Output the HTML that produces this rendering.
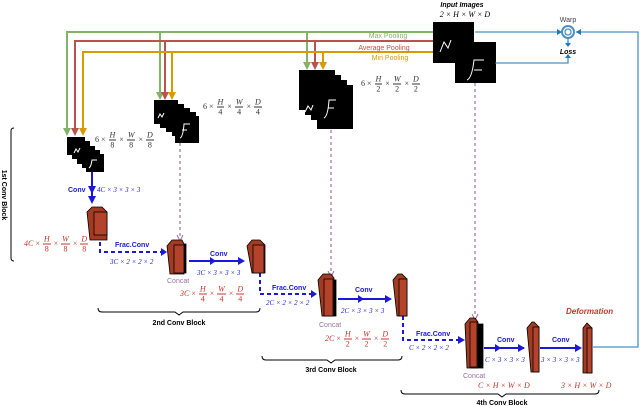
<!DOCTYPE html>
<html><head><style>
body{margin:0;background:#fff}
svg{display:block;font-family:"Liberation Sans",sans-serif}
.m{font-family:"Liberation Serif",serif;font-style:italic}
.lab{position:absolute;font-family:"Liberation Serif",serif;font-size:8px;white-space:nowrap;line-height:1;transform:translateY(-50%)}
.fr{display:inline-block;vertical-align:middle;text-align:center;margin:0 1px}
.fr span{display:block;padding:0 1px;line-height:9px}
.fr span:first-child{font-style:italic;border-bottom:0.8px solid}
.i{font-style:italic}
</style></head><body>
<div style="position:relative;width:640px;height:406px">
<svg width="640" height="406" viewBox="0 0 640 406" xmlns="http://www.w3.org/2000/svg">
<!-- pooling lines -->
<g fill="none" stroke-width="2">
<path d="M434,32 H67 V133 M160,32 V97 M307,32 V67" stroke="#82b366"/>
<path d="M434,41 H75 V133 M165,41 V97 M315,41 V67" stroke="#b85450"/>
<path d="M434,52 H83 V133 M172,52 V97 M323,52 V67" stroke="#d79b00"/>
</g>
<g>
<path d="M63,128 L67,136 L71,128z M156,92 L160,100 L164,92z M303,62 L307,70 L311,62z" fill="#82b366"/>
<path d="M71,128 L75,136 L79,128z M161,92 L165,100 L169,92z M311,62 L315,70 L319,62z" fill="#b85450"/>
<path d="M79,128 L83,136 L87,128z M168,92 L172,100 L176,92z M319,62 L323,70 L327,62z" fill="#d79b00"/>
</g>
<text x="388" y="38" font-size="7" fill="#82b366" text-anchor="middle">Max Pooling</text>
<text x="384" y="50" font-size="7" fill="#b85450" text-anchor="middle">Average Pooling</text>
<text x="390" y="60" font-size="7" fill="#d79b00" text-anchor="middle">Min Pooling</text>
<!-- stacks -->
<g fill="#000">
<rect x="67" y="137" width="18" height="18"/><rect x="72" y="141" width="18" height="18"/><rect x="77" y="146" width="18" height="18"/><rect x="82" y="150" width="18" height="18"/><rect x="86" y="154" width="18" height="18"/>
<rect x="154" y="100" width="24" height="24"/><rect x="160" y="104" width="24" height="24"/><rect x="166" y="108" width="24" height="24"/><rect x="172" y="112" width="24" height="24"/><rect x="175" y="116" width="24" height="27"/>
<rect x="299" y="70" width="36" height="40"/><rect x="305" y="75" width="36" height="40"/><rect x="311" y="80" width="36" height="40"/><rect x="317" y="85" width="36" height="44"/>
<rect x="433" y="22" width="41" height="41"/><rect x="455" y="42" width="41" height="41"/>
</g>
<g stroke="#fff" fill="none" stroke-width="1">
<path d="M440,52 l4,-10 l4,6 l3,-8 M467,80 q5,-2 7,-20 l10,0 M474,70 h8"/>
<path d="M324,118 q4,-2 5,-18 l7,0 M328,108 h6 M305,112 l3,-6 l3,4 l2,-5"/>
<path d="M180,138 q3,-1 4,-14 l6,0 M182,130 h5 M158,118 l2,-4 l2,3 l2,-4"/>
<path d="M89,168 q2,-1 3,-8 l5,0 M74,153 l2,-4 l2,3 l2,-4"/>
</g>
<text x="462" y="7" font-size="7" font-weight="bold" font-style="italic" text-anchor="middle">Input Images</text>
<text x="465" y="17" font-size="8" class="m" text-anchor="middle">2 × H × W × D</text>
<!-- warp/loss -->
<g stroke="#1f77b4" fill="none" stroke-width="1.3" opacity="0.8">
<path d="M475,32 H560 M495,63 H568 V56 M576,32 H638 V347 H593 M568,38 V44"/>
<circle cx="568" cy="32" r="6" stroke-width="2"/><circle cx="568" cy="32" r="3"/>
</g>
<path d="M557,29 L562,32 L557,35z M581,29 L576,32 L581,35z M565,43 L568,47 L571,43z M565,58 L568,54 L571,58z" fill="#1f77b4"/>
<text x="568" y="22" font-size="7" fill="#444" text-anchor="middle">Warp</text>
<text x="568" y="54" font-size="7" font-weight="bold" font-style="italic" text-anchor="middle">Loss</text>
<!-- purple dashed -->
<g stroke="#9673a6" stroke-dasharray="3,3" stroke-width="1.2">
<path d="M180,143 V236 M331,130 V272 M475,83 V315"/></g>
<path d="M177,235 L180,241 L183,235 M328,271 L331,277 L334,271 M472,314 L475,320 L478,314" stroke="#9673a6" fill="none"/>
<!-- blue flows -->
<g stroke="#1a1ad6" stroke-width="2" fill="none">
<path d="M92,172 V200"/>
<path d="M100,235 V252 H162" stroke-dasharray="4,3"/>
<path d="M189,261 H243"/>
<path d="M260,273 V294 H313" stroke-dasharray="4,3"/>
<path d="M338,299 H390"/>
<path d="M403,316 V340 H462" stroke-dasharray="4,3"/>
<path d="M484,348 H524"/><path d="M540,348 H580"/>
</g>
<g fill="#1a1ad6">
<path d="M88,186 L92,194 L96,186z M88,196 L92,204 L96,196z M161,248 L167,252 L161,256z M210,257 L216,261 L210,265z M238,257 L245,261 L238,265z M311,290 L317,294 L311,298z M358,295 L364,299 L358,303z M385,295 L392,299 L385,303z M458,336 L465,340 L458,344z M495,344 L501,348 L495,352z M518,344 L525,348 L518,352z M575,344 L582,348 L575,352z"/>
</g>
<g font-size="7" font-weight="bold" fill="#1a1ad6">
<text x="68" y="192">Conv</text><text x="115" y="247">Frac.Conv</text><text x="210" y="256">Conv</text>
<text x="272" y="290">Frac.Conv</text><text x="355" y="292">Conv</text><text x="416" y="336">Frac.Conv</text>
<text x="497" y="342">Conv</text><text x="552" y="342">Conv</text>
</g>
<g font-size="7" fill="#1a1ad6" class="m">
<text x="97" y="192">4C × 3 × 3 × 3</text><text x="110" y="264">3C × 2 × 2 × 2</text>
<text x="197" y="275">3C × 3 × 3 × 3</text><text x="266" y="305">2C × 2 × 2 × 2</text>
<text x="341" y="313">2C × 3 × 3 × 3</text><text x="409" y="350">C × 2 × 2 × 2</text>
<text x="485" y="362">C × 3 × 3 × 3</text><text x="541" y="362">3 × 3 × 3 × 3</text>
</g>
<!-- red blocks -->
<g stroke="#000" stroke-width="0.8">
<path d="M87,212 l5,-5 h10 l5,5 v28 l-5,0 h-12z" fill="#a33a22"/><rect x="94" y="212" width="13" height="23" fill="#b5422a"/>
<rect x="172" y="244" width="14" height="29" fill="#000"/><path d="M167,246 l5,-6 h10 l2,4 v30 h-14z" fill="#a33a22"/><rect x="174" y="245" width="10" height="28" fill="#b5422a"/>
<path d="M247,246 l5,-6 h8 l5,5 v28 h-13z" fill="#a33a22"/><rect x="253" y="245" width="11" height="28" fill="#b5422a"/>
<rect x="324" y="280" width="12" height="36" fill="#000"/><path d="M318,280 l5,-6 h8 l3,4 v38 h-12z" fill="#a33a22"/><rect x="324" y="279" width="9" height="37" fill="#b5422a"/>
<path d="M393,280 l5,-6 h4 l5,5 v37 h-10z" fill="#a33a22"/><rect x="399" y="279" width="8" height="37" fill="#b5422a"/>
<rect x="471" y="324" width="12" height="44" fill="#000"/><path d="M465,324 l5,-6 h5 l3,4 v46 h-11z" fill="#a33a22"/><rect x="470" y="322" width="7" height="45" fill="#b5422a"/>
<path d="M527,328 l5,-6 h2 l5,5 v45 h-8z" fill="#a33a22"/><rect x="533" y="327" width="6" height="45" fill="#b5422a"/>
<path d="M583,328 l4,-5 l5,5 v45 l-4,0 h-5z" fill="#a33a22"/><rect x="587" y="328" width="5" height="45" fill="#b5422a"/>
</g>
<g font-size="7" fill="#9673a6"><text x="167" y="283">Concat</text><text x="319" y="327">Concat</text><text x="463" y="378">Concat</text></g>
<g font-size="8" fill="#c0392b" class="m">
<text x="478" y="388">C × H × W × D</text><text x="561" y="388">3 × H × W × D</text>
<text x="566" y="314" font-family="Liberation Sans" font-weight="bold" font-size="8">Deformation</text>
</g>
<!-- braces -->
<g stroke="#000" fill="none" stroke-width="1">
<path d="M14,128 q-3,0 -3,3 V195 M11,195 V258 q0,3 3,3"/>
<path d="M98,308 q0,4 4,4 H175 l4,3 l4,-3 H256 q4,0 4,-4"/>
<path d="M262,356 q0,4 4,4 H327 l4,3 l4,-3 H398 q4,0 4,-4"/>
<path d="M401,390 q0,4 4,4 H498 l4,3 l4,-3 H595 q4,0 4,-4"/>
</g>
<text transform="translate(2,195) rotate(90)" font-size="7" font-weight="bold" text-anchor="middle">1st Conv Block</text>
<g font-size="7" font-weight="bold" text-anchor="middle"><text x="179" y="325">2nd Conv Block</text><text x="331" y="372">3rd Conv Block</text><text x="502" y="405">4th Conv Block</text></g>
</svg>
<div class="lab" style="left:95px;top:140px;color:#333">6 × <span class="fr"><span>H</span><span>8</span></span> × <span class="fr"><span>W</span><span>8</span></span> × <span class="fr"><span>D</span><span>8</span></span></div>
<div class="lab" style="left:203px;top:107px;color:#333">6 × <span class="fr"><span>H</span><span>4</span></span> × <span class="fr"><span>W</span><span>4</span></span> × <span class="fr"><span>D</span><span>4</span></span></div>
<div class="lab" style="left:361px;top:84px;color:#333">6 × <span class="fr"><span>H</span><span>2</span></span> × <span class="fr"><span>W</span><span>2</span></span> × <span class="fr"><span>D</span><span>2</span></span></div>
<div class="lab" style="left:24px;top:244px;color:#c0392b"><span class="i">4C</span> × <span class="fr"><span>H</span><span>8</span></span> × <span class="fr"><span>W</span><span>8</span></span> × <span class="fr"><span>D</span><span>8</span></span></div>
<div class="lab" style="left:180px;top:294px;color:#c0392b"><span class="i">3C</span> × <span class="fr"><span>H</span><span>4</span></span> × <span class="fr"><span>W</span><span>4</span></span> × <span class="fr"><span>D</span><span>4</span></span></div>
<div class="lab" style="left:325px;top:339px;color:#c0392b"><span class="i">2C</span> × <span class="fr"><span>H</span><span>2</span></span> × <span class="fr"><span>W</span><span>2</span></span> × <span class="fr"><span>D</span><span>2</span></span></div>
</div>
</body></html>
